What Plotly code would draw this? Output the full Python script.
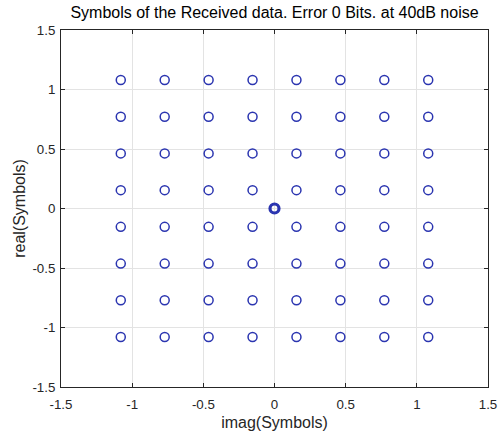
import plotly.graph_objects as go

levels = [-1.0801, -0.7715, -0.4629, -0.1543, 0.1543, 0.4629, 0.7715, 1.0801]
center = [0.0]
ticks = [-1.5, -1, -0.5, 0, 0.5, 1, 1.5]
tick_text = ["-1.5", "-1", "-0.5", "0", "0.5", "1", "1.5"]

xs = [a for a in levels for b in levels]
ys = [b for a in levels for b in levels]

fig = go.Figure()
fig.add_trace(go.Scatter(x=xs, y=ys, mode="markers",
                         marker=dict(symbol="circle-open", size=9, color="#2b35b0",
                                     line=dict(width=1.5, color="#2b35b0")),
                         showlegend=False))
fig.add_trace(go.Scatter(x=center, y=center, mode="markers",
                         marker=dict(symbol="circle-open", size=9, color="#2b35b0",
                                     line=dict(width=3.2, color="#2b35b0")),
                         showlegend=False))

FONT = "Liberation Sans, Arial"
axis_common = dict(range=[-1.5, 1.5], tickvals=ticks, ticktext=tick_text,
                   showgrid=True, gridcolor="#e3e3e3", gridwidth=1,
                   zeroline=False, showline=True, linecolor="#262626", linewidth=1,
                   mirror="ticks", ticks="inside", ticklen=4, tickcolor="#262626",
                   automargin=False,
                   tickfont=dict(family=FONT, size=13.3, color="#262626"))

fig.update_layout(
    width=500, height=440,
    margin=dict(l=61, r=12, t=30, b=53),
    paper_bgcolor="white", plot_bgcolor="white",
    title=dict(text="Symbols of the Received data. Error 0 Bits. at 40dB noise",
               x=0.5, xref="paper", xanchor="center", y=0.972, yanchor="middle",
               font=dict(family=FONT, size=16, color="black")),
    xaxis=dict(axis_common, ticklabelstandoff=5,
               title=dict(text="imag(Symbols)", standoff=5,
                          font=dict(family=FONT, size=16, color="#262626"))),
    yaxis=dict(axis_common, ticklabelstandoff=2,
               title=dict(text="real(Symbols)", standoff=2,
                          font=dict(family=FONT, size=16, color="#262626"))),
)

fig.write_html("out.html")
